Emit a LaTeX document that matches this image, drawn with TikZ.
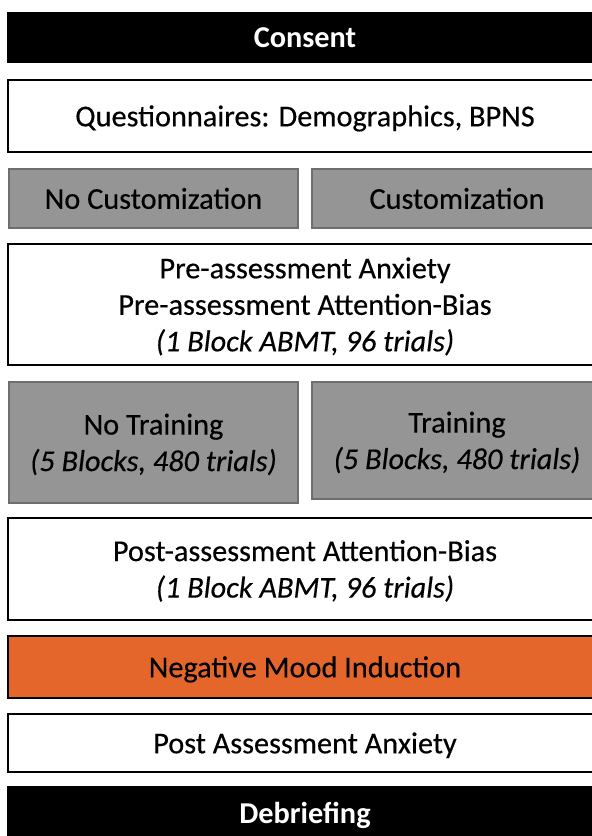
\documentclass[tikz,border=0pt]{standalone}
\usepackage{fontspec}
\setmainfont{Carlito}[UprightFeatures={FakeBold=0.35},ItalicFeatures={FakeBold=0.35}]
\definecolor{boxgray}{HTML}{959595}
\definecolor{boxgrayline}{HTML}{6E6E6E}
\definecolor{moodorange}{HTML}{E5662A}
\newcommand{\tx}[1]{\raisebox{-3pt}[\height][\depth]{\begin{tabular}{@{}c@{}}#1\end{tabular}}}
\begin{document}
\begin{tikzpicture}[x=1pt,y=-1pt,
  every node/.style={inner sep=0pt, outer sep=0pt, align=center, font=\fontsize{30.3}{36.5}\selectfont},
  blackbox/.style={draw=black, fill=black, line width=1.5pt, text=white, font=\fontsize{30.3}{36.5}\selectfont\bfseries},
  whitebox/.style={draw=black, fill=white, line width=2pt},
  graybox/.style={draw=boxgrayline, fill=boxgray, line width=2pt},
  orangebox/.style={draw=black, fill=moodorange, line width=2pt}
]
\useasboundingbox (0,0) rectangle (592,836);
\clip (0,0) rectangle (592,836);
\fill[white] (0,0) rectangle (592,836);

\node[blackbox, minimum width=594, minimum height=50] (consent) at (305,37.5) {\tx{Consent}};
\node[whitebox, minimum width=594, minimum height=72] (quest) at (305,116) {\tx{Questionnaires: Demographics, BPNS}};
\node[graybox, minimum width=289, minimum height=59] (nocust) at (153.5,198.5) {\tx{No Customization}};
\node[graybox, minimum width=290, minimum height=59] (cust) at (457,198.5) {\tx{Customization}};
\node[whitebox, minimum width=594, minimum height=121] (pre) at (305,304.5) {\tx{Pre-assessment Anxiety\\Pre-assessment Attention-Bias\\\textit{(1 Block ABMT, 96 trials)}}};
\node[graybox, minimum width=289, minimum height=121] (notrain) at (153.5,442.5) {\tx{No Training\\\textit{(5 Blocks, 480 trials)}}};
\node[graybox, minimum width=290, minimum height=117] (train) at (457,440.5) {\tx{Training\\\textit{(5 Blocks, 480 trials)}}};
\node[whitebox, minimum width=594, minimum height=102] (post) at (305,569) {\tx{Post-assessment Attention-Bias\\\textit{(1 Block ABMT, 96 trials)}}};
\node[orangebox, minimum width=594, minimum height=62] (mood) at (305,667) {\tx{Negative Mood Induction}};
\node[whitebox, minimum width=594, minimum height=58] (postanx) at (305,743) {\tx{Post Assessment Anxiety}};
\node[blackbox, minimum width=594, minimum height=52] (debrief) at (305,813) {\tx{Debriefing}};
\end{tikzpicture}
\end{document}
